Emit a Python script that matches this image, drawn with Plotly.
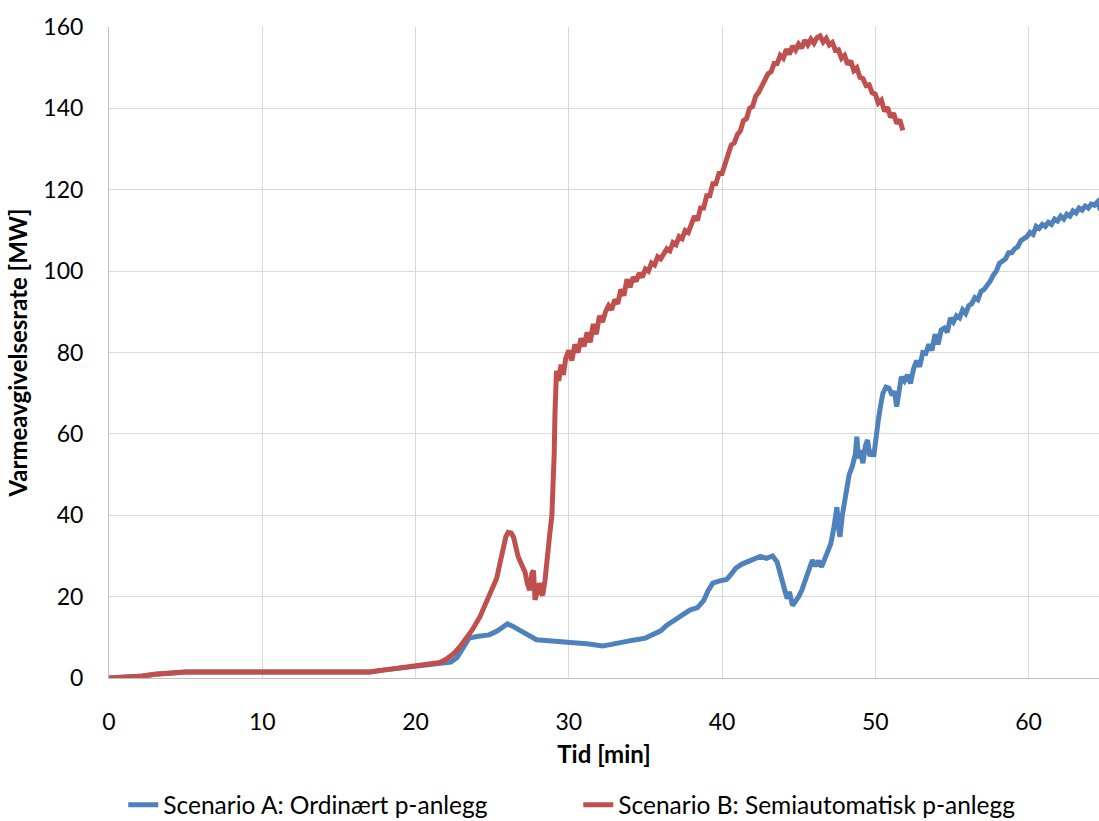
import plotly.graph_objects as go

# Scenario B (red)
b_x = [0, 1, 2, 3, 4, 5, 10, 15, 17, 18, 19, 20, 21, 21.6, 22.0, 22.5, 22.9, 23.3, 23.7, 24.2,
       24.6, 25.0, 25.3, 25.5, 25.7, 25.9, 26.05, 26.25, 26.4, 26.55, 26.7, 26.85, 27.0, 27.15,
       27.3, 27.45, 27.6, 27.7, 27.8, 27.95, 28.1, 28.2, 28.3, 28.45, 28.6, 28.75, 28.9, 29.0,
       29.05, 29.1, 29.15, 29.2, 29.35, 29.5, 29.65, 29.8, 30.0, 30.2, 30.4, 30.6, 30.8, 31.0,
       31.2, 31.4, 31.6, 31.8, 32.0, 32.2, 32.4, 32.6, 32.8, 33.0, 33.2, 33.4, 33.6, 33.8, 34.0,
       34.2, 34.4, 34.6, 34.8, 35.0, 35.2, 35.4, 35.6, 35.8, 36.0, 36.2, 36.4, 36.6, 36.8, 37.0,
       37.2, 37.4, 37.6, 37.8, 38.0, 38.2, 38.4, 38.6, 38.8, 39.0, 39.2, 39.4, 39.6, 39.8, 40.0,
       40.2, 40.4, 40.6, 40.8, 41.0, 41.2, 41.4, 41.6, 41.8, 42.0, 42.2, 42.4, 42.6, 42.8, 43.0,
       43.2, 43.4, 43.6, 43.8, 44.0, 44.2, 44.4, 44.6, 44.8, 45.0, 45.2, 45.4, 45.6, 45.8, 46.0,
       46.2, 46.4, 46.6, 46.8, 47.0, 47.2, 47.4, 47.6, 47.8, 48.0, 48.2, 48.4, 48.6, 48.8, 49.0,
       49.2, 49.4, 49.6, 49.8, 50.0, 50.2, 50.4, 50.6, 50.8, 51.0, 51.2, 51.4, 51.6, 51.8]
b_y = [0, 0.1, 0.4, 0.9, 1.3, 1.5, 1.5, 1.5, 1.5, 2.0, 2.5, 3.0, 3.5, 3.8, 4.6, 6.0, 7.7, 9.6, 11.8, 15.0,
       18.4, 21.5, 24.5, 28, 31.4, 34.8, 35.8, 35.6, 34.6, 32, 29.8, 28.5, 27.3, 26,
       23.2, 21.6, 25.8, 26.4, 19.2, 21.5, 23.3, 20.8, 20.4, 24, 30.7, 35, 40, 47,
       55, 65, 72, 75.5, 73, 77, 74.5, 78.5, 80.5, 78, 82, 80, 83.5, 81.5,
       85, 82.5, 87, 84.5, 89, 87.5, 90, 91.5, 90.5, 93, 92, 95.5, 94, 98, 96,
       98.5, 97.5, 99.5, 98.5, 100.5, 100, 102, 101.5, 103.5, 103, 104.5, 105.5, 105, 107, 106.5,
       108.5, 108, 110, 109.5, 112, 113.5, 112.5, 115.5, 115.5, 118.5, 118.5, 121.5, 121.5, 124, 124,
       126.5, 128.5, 131, 131.5, 133.5, 134.5, 137, 137.5, 140, 140.5, 143, 144, 145.5, 146.5, 148.5,
       149, 151, 151, 153, 152.3, 154.5, 153.3, 155.3, 154.3, 155.8, 154.8, 156.8, 155.6, 157, 156,
       157.4, 157.8, 156.3, 157.2, 155.6, 156.2, 154.3, 154.4, 152.3, 153, 150.8, 151.7, 149.3, 150, 147.6,
       147.3, 145.6, 145.8, 143.8, 143.5, 141.3, 142, 139.3, 140.3, 137.8, 138.8, 136.3, 137.2, 134.6]

# Scenario A (blue)
a_x = [0, 1, 2, 3, 4, 5, 10, 15, 17, 18, 19, 20, 21, 21.6, 22.3, 22.7, 23.1, 23.5, 24.0, 24.8,
       25.3, 25.7, 26.0, 26.3, 26.8, 27.3, 27.9, 28.5, 29.2, 29.8, 30.5, 31.2, 31.8, 32.2, 32.7,
       33.3, 34.2, 35.0, 35.5, 36.0, 36.4, 37.0, 37.5, 37.9, 38.4, 38.8, 39.1, 39.4, 39.8, 40.3,
       40.6, 40.9, 41.3, 41.8, 42.2, 42.5, 42.9, 43.3, 43.6, 43.9, 44.1, 44.25, 44.4, 44.6, 44.8,
       45.0, 45.2, 45.4, 45.6, 45.8, 45.9, 46.1, 46.3, 46.5, 46.7, 46.9, 47.1, 47.3, 47.5, 47.6,
       47.7, 47.85, 48.0, 48.1, 48.3, 48.5, 48.7, 48.8, 48.9, 49.0, 49.2, 49.35, 49.5, 49.65, 49.8,
       49.9, 50.05, 50.2, 50.35, 50.5, 50.7, 50.9, 51.1, 51.25, 51.4, 51.55, 51.7, 51.9, 52.1, 52.3,
       52.5, 52.7, 52.9, 53.1, 53.3, 53.5, 53.7, 53.9, 54.1, 54.3, 54.5, 54.7, 54.9, 55.1, 55.3,
       55.5, 55.7, 55.9, 56.1, 56.3, 56.5, 56.7, 56.9, 57.1, 57.3, 57.5, 57.7, 57.9, 58.1, 58.3,
       58.5, 58.7, 58.9, 59.1, 59.3, 59.5, 59.7, 59.9, 60.1, 60.3, 60.5, 60.7, 60.9, 61.1, 61.3,
       61.5, 61.7, 61.9, 62.1, 62.3, 62.5, 62.7, 62.9, 63.1, 63.3, 63.5, 63.7, 63.9, 64.1, 64.3,
       64.5, 64.7]
a_y = [0, 0.1, 0.4, 0.9, 1.3, 1.5, 1.5, 1.5, 1.5, 2.0, 2.5, 3.0, 3.5, 3.7, 3.9, 5.0, 7.5, 9.8, 10.2, 10.6,
       11.5, 12.7, 13.3, 12.8, 11.8, 10.6, 9.4, 9.2, 8.9, 8.7, 8.6, 8.4, 8.0, 7.9, 8.2,
       8.7, 9.3, 9.8, 10.6, 11.6, 13.0, 14.5, 15.8, 16.7, 17.3, 19, 21.5, 23.3, 23.8, 24.2,
       25.5, 27.0, 28.0, 28.8, 29.5, 29.9, 29.4, 30.0, 28.5, 24.9, 21.5, 19.5, 21.2, 17.8, 18.8,
       20.0, 21.5, 23.5, 26.0, 27.2, 29.0, 27.5, 28.8, 27.3, 29.5, 31, 33, 37, 42, 37,
       34.7, 40, 43.5, 47, 50, 52, 55, 59.3, 54, 56, 52.8, 57, 58.5, 54.5, 56,
       54.4, 60, 63.4, 67, 70, 71.5, 71.2, 69.5, 70.5, 66.7, 70, 74, 73, 74.5, 72.4,
       76, 78, 76.5, 80, 79.8, 82, 80.5, 84.5, 82, 85.5, 86, 85, 88.5, 87.5, 89,
       88.5, 90.5, 89.6, 91.5, 92, 93.5, 93, 95, 95.5, 96.5, 97.5, 99, 100, 101.9, 102.5,
       103, 104.5, 104.5, 105.5, 106, 107.5, 108, 108.5, 109.5, 109, 111, 110.5, 111.5, 111, 112,
       111.5, 112.8, 112.3, 113.5, 112.8, 114, 113.5, 114.8, 114.3, 115.5, 115, 116, 115.5, 116.5, 116.2,
       117, 115]

x_ticks = [0, 10, 20, 30, 40, 50, 60]
y_ticks = [0, 20, 40, 60, 80, 100, 120, 140, 160]

FONT = "Lato, Carlito, 'Liberation Sans', sans-serif"

fig = go.Figure()
fig.add_trace(go.Scatter(x=a_x, y=a_y, mode="lines", name="Scenario A: Ordinært p-anlegg",
                         line=dict(color="#4F81BD", width=5)))
fig.add_trace(go.Scatter(x=b_x, y=b_y, mode="lines", name="Scenario B: Semiautomatisk p-anlegg",
                         line=dict(color="#C0504D", width=5)))

fig.update_layout(
    width=1099, height=821,
    margin=dict(l=109, r=0, t=27, b=143, autoexpand=False),
    paper_bgcolor="white", plot_bgcolor="white",
    font=dict(family=FONT, size=23, color="#000000"),
    showlegend=True,
    legend=dict(orientation="h", x=0.474, xanchor="center", y=-0.195, yanchor="middle",
                entrywidth=410, entrywidthmode="pixels",
                font=dict(size=24.5, color="#000000"), bgcolor="rgba(0,0,0,0)"),
    xaxis=dict(range=[0, 64.6], tickvals=x_ticks, showgrid=True, gridcolor="#D9D9D9", gridwidth=1,
               showline=True, linecolor="#BFBFBF", linewidth=1, zeroline=False,
               ticks="", ticklabelstandoff=23, tickfont=dict(size=23),
               title=dict(text="<b>Tid [min]</b>", font=dict(size=24), standoff=12)),
    yaxis=dict(range=[0, 160], tickvals=y_ticks, showgrid=True, gridcolor="#D9D9D9", gridwidth=1,
               showline=True, linecolor="#BFBFBF", linewidth=1, zeroline=False,
               ticks="", ticklabelstandoff=20, tickfont=dict(size=23),
               title=dict(text="<b>Varmeavgivelsesrate [MW]</b>", font=dict(size=24), standoff=8)),
)

fig.write_html(
    "out.html",
    config={"displayModeBar": False},
    post_script="document.documentElement.style.overflow='hidden';"
                "document.body.style.margin='0';document.body.style.overflow='hidden';",
)
